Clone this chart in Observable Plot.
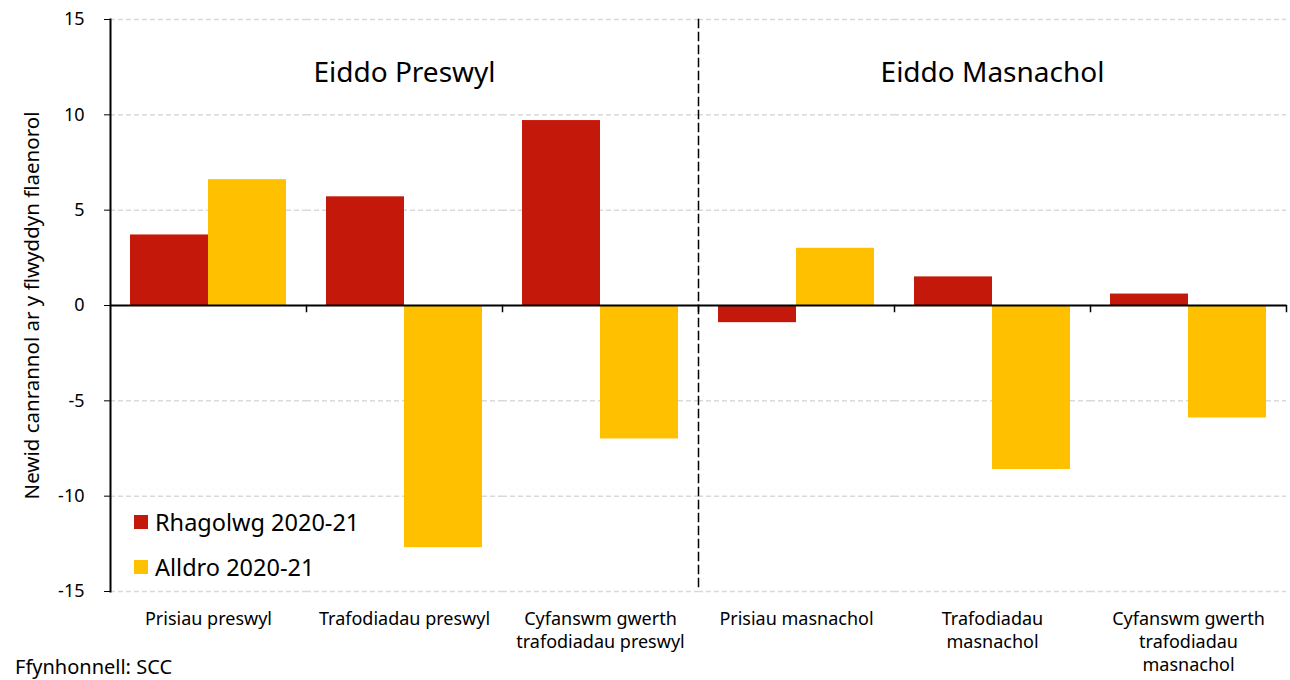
<!DOCTYPE html>
<html><head><meta charset="utf-8">
<script src="https://cdn.jsdelivr.net/npm/d3@7"></script>
<script src="https://cdn.jsdelivr.net/npm/@observablehq/plot@0.6"></script>
<style>
body{margin:0;background:#fff;font-family:"Noto Sans",sans-serif;color:#000}
#wrap{position:relative;width:1290px;height:680px;overflow:hidden}
#legend{position:absolute;left:134px;top:499px;font-size:23.5px}
.item{display:flex;align-items:center;height:45px}
.sw{width:14px;height:14px;margin-right:7px}
#caption{position:absolute;left:15px;top:653px;font-size:20px}
</style></head><body><div id="wrap"></div>
<script>
const categories = ["Prisiau preswyl","Trafodiadau preswyl","Cyfanswm gwerth trafodiadau preswyl","Prisiau masnachol","Trafodiadau masnachol","Cyfanswm gwerth trafodiadau masnachol"];
const tickLabels = ["Prisiau preswyl","Trafodiadau preswyl","Cyfanswm gwerth\ntrafodiadau preswyl","Prisiau masnachol","Trafodiadau\nmasnachol","Cyfanswm gwerth\ntrafodiadau\nmasnachol"];
const series = ["Rhagolwg 2020-21","Alldro 2020-21"];
const rhagolwg = [3.7, 5.7, 9.7, -0.9, 1.5, 0.6];
const alldro = [6.6, -12.7, -7.0, 3.0, -8.6, -5.9];
const colors = ["#C4180A","#FFC000"];
const groupTitles = ["Eiddo Preswyl","Eiddo Masnachol"];
const groupTitleAt = ["Trafodiadau preswyl","Trafodiadau masnachol"];
const yTicks = [-15,-10,-5,0,5,10,15];
const yLabel = "Newid canrannol ar y flwyddyn flaenorol";
const caption = "Ffynhonnell: SCC";

const data = categories.flatMap((c,i)=>[
  {cat:c, series:series[0], value:rhagolwg[i]},
  {cat:c, series:series[1], value:alldro[i]}
]);

const W = 1290, H = 680, mt = 19, mb = 89, ml = 108, mr = 3;
const plotH = H - mt - mb;
const font = '"Noto Sans", sans-serif';

const plot = Plot.plot({
  width: W, height: H, marginLeft: ml, marginRight: mr, marginTop: mt, marginBottom: mb,
  style: {fontFamily: font, fontSize: "18px", color: "#000", background: "#fff"},
  fx: {domain: categories, padding: 0, label: null},
  x: {domain: series, paddingInner: 0, paddingOuter: 0.25, axis: null},
  y: {domain: [-15, 15]},
  color: {domain: series, range: colors},
  marks: [
    Plot.ruleY(yTicks.filter(d => d !== 0), {stroke: "#d9d9d9", strokeWidth: 1.5, strokeDasharray: "5,3"}),
    Plot.barY(data, {fx: "cat", x: "series", y: "value", fill: "series"}),
    Plot.ruleY([0], {stroke: "#000", strokeWidth: 2}),
    Plot.frame({anchor: "right", stroke: "#000", strokeWidth: 1.5, insetTop: plotH/2, insetBottom: plotH/2 - 6}),
    Plot.frame({anchor: "left", fx: [categories[3]], stroke: "#000", strokeWidth: 1.5, strokeDasharray: "8,5"}),
    Plot.frame({anchor: "left", fx: [categories[0]], stroke: "#000", strokeWidth: 2}),
    Plot.axisFx({anchor: "bottom", tickSize: 0, tickPadding: 17, fontSize: 18, lineHeight: 1.28,
      tickFormat: c => tickLabels[categories.indexOf(c)], label: null}),
    Plot.axisY({ticks: yTicks, tickSize: 6, tickPadding: 20, fontSize: 18, tickFormat: d => String(d), label: null}),
    Plot.axisY({ticks: [], label: yLabel, labelAnchor: "center", labelArrow: "none", labelOffset: 86, fontSize: 20.5}),
    Plot.text(groupTitles, {fx: (d, i) => groupTitleAt[i], y: 12.2, text: d => d, fontSize: 28, frameAnchor: "middle", fill: "#000"})
  ]
});

const wrap = document.getElementById("wrap");
wrap.appendChild(plot);
const leg = document.createElement("div");
leg.id = "legend";
series.forEach((s, i) => {
  const it = document.createElement("div"); it.className = "item";
  const sw = document.createElement("span"); sw.className = "sw"; sw.style.background = colors[i];
  const t = document.createElement("span"); t.textContent = s;
  it.appendChild(sw); it.appendChild(t); leg.appendChild(it);
});
wrap.appendChild(leg);
const cap = document.createElement("div");
cap.id = "caption"; cap.textContent = caption;
wrap.appendChild(cap);
</script></body></html>
